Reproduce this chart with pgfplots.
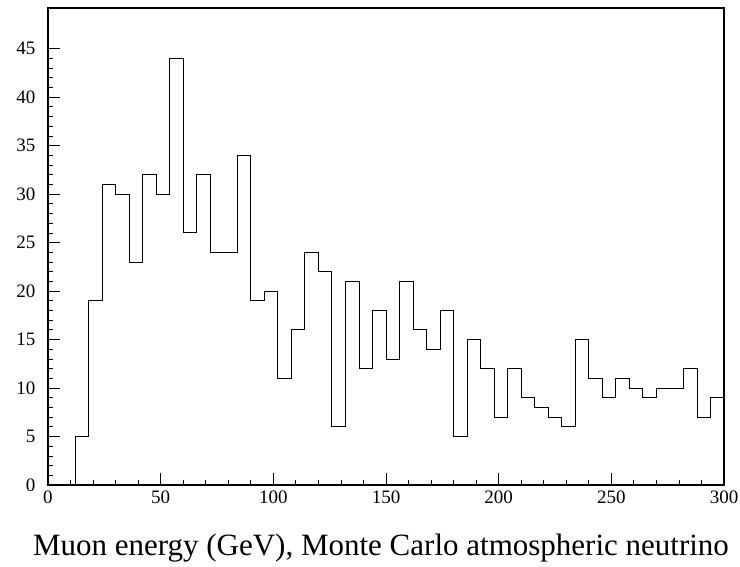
\documentclass[border=0pt]{standalone}
\usepackage{fontspec}
\setmainfont{Liberation Serif}
\usepackage{pgfplots}
\pgfplotsset{compat=1.18}
\begin{document}
\begin{tikzpicture}
\begin{axis}[
  scale only axis,
  width=676pt, height=477pt,
  xmin=0, xmax=300, ymin=0, ymax=49.2,
  xtick={0,50,...,300}, minor x tick num=4,
  ytick={0,5,...,45}, minor y tick num=4,
  xtick pos=bottom, ytick pos=left,
  tick align=inside,
  major tick length=12pt, minor tick length=5.5pt,
  axis line style={line width=1.3pt},
  every tick/.style={black, line width=0.8pt},
  /pgf/number format/assume math mode=true,
  xticklabel={\fontsize{19}{21}\selectfont\pgfmathprintnumber{\tick}},
  yticklabel={\fontsize{19}{21}\selectfont\pgfmathprintnumber{\tick}},
  xticklabel style={yshift=-2pt},
  yticklabel style={xshift=-9pt},
  xlabel={Muon energy (GeV), Monte Carlo atmospheric neutrino},
  xlabel style={font=\fontsize{31}{34}\selectfont, at={(axis description cs:0.5,0)}, anchor=base, yshift=-70pt, xshift=-5pt},
]
\addplot[const plot, black, line width=0.9pt] coordinates {
(12,0) (12,5) (18,19) (24,31) (30,30) (36,23) (42,32) (48,30) (54,44)
(60,26) (66,32) (72,24) (78,24) (84,34) (90,19) (96,20) (102,11)
(108,16) (114,24) (120,22) (126,6) (132,21) (138,12) (144,18) (150,13)
(156,21) (162,16) (168,14) (174,18) (180,5) (186,15) (192,12) (198,7)
(204,12) (210,9) (216,8) (222,7) (228,6) (234,15) (240,11) (246,9)
(252,11) (258,10) (264,9) (270,10) (276,10) (282,12) (288,7) (294,9)
(300,9)
};
\end{axis}
\pgfresetboundingbox
\path ([shift={(-48pt,-81pt)}]current axis.south west) rectangle ([shift={(16pt,8pt)}]current axis.north east);
\end{tikzpicture}
\end{document}
